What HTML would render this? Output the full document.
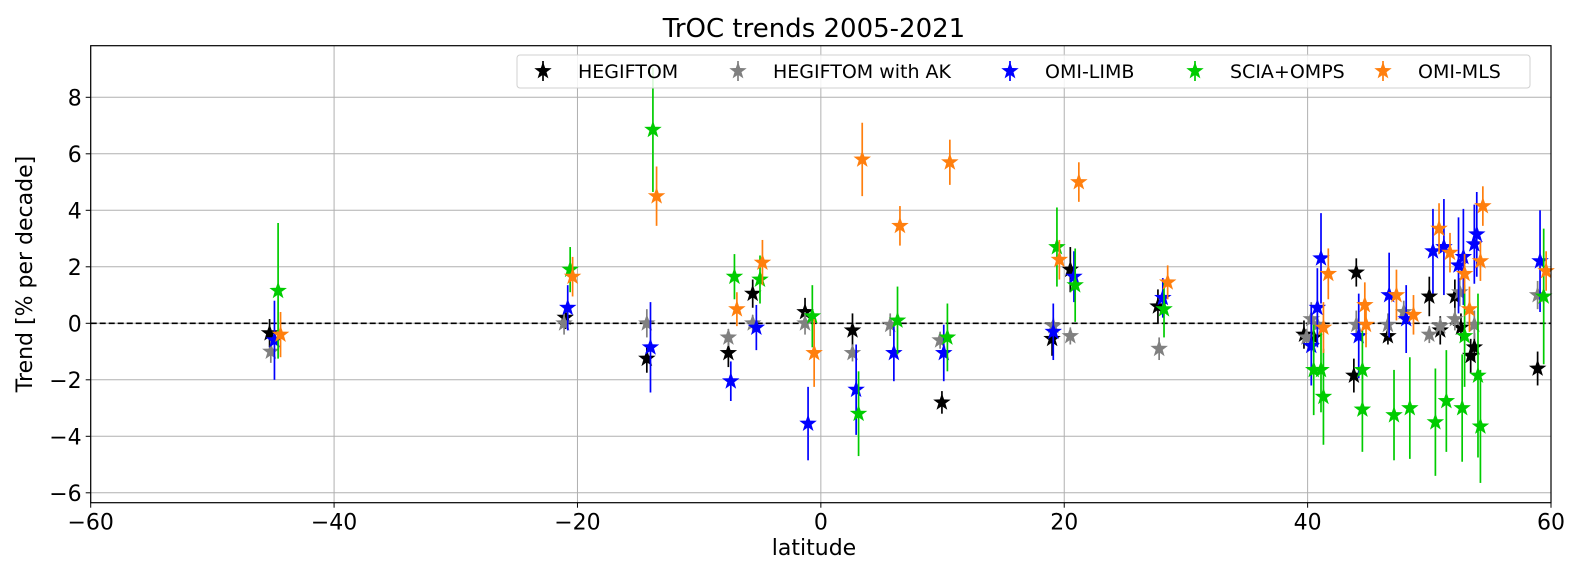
<!DOCTYPE html>
<html><head><meta charset="utf-8"><style>
html,body{margin:0;padding:0;background:#fff;}
svg{display:block;font-family:"DejaVu Sans","Liberation Sans",sans-serif;}
</style></head><body>
<svg id="chart" width="1579" height="574" viewBox="0 0 1579 574">
<text x="814" y="37" text-anchor="middle" font-size="26">TrOC trends 2005-2021</text>
<g id="grid"></g>
<g id="ticks"></g>
<g id="marks"></g>
<rect x="90.7" y="45.7" width="1460.3" height="457" fill="none" stroke="#000" stroke-width="1.2"/>
<text x="814" y="555" text-anchor="middle" font-size="22">latitude</text>
<text transform="translate(32,274) rotate(-90)" text-anchor="middle" font-size="22">Trend [% per decade]</text>
<g id="legend"></g>
</svg>
<script>
const xTicks=[-60,-40,-20,0,20,40,60];
const yTicks=[-6,-4,-2,0,2,4,6,8];
const seriesNames=["HEGIFTOM","HEGIFTOM with AK","OMI-LIMB","SCIA+OMPS","OMI-MLS"];
const hegiftom=[[-45.3,-0.35,0.5],[-21.0,0.2,0.4],[-14.3,-1.25,0.5],[-7.6,-1.05,0.5],[-5.6,1.05,0.5],[-1.3,0.4,0.5],[2.6,-0.25,0.6],[9.95,-2.8,0.4],[19.0,-0.55,0.6],[20.5,1.9,0.8],[27.7,0.6,0.6],[39.7,-0.4,0.5],[40.5,-0.5,0.5],[44.0,1.8,0.5],[43.8,-1.85,0.6],[46.6,-0.45,0.3],[50.0,0.95,0.7],[50.9,-0.25,0.5],[52.1,0.95,0.6],[52.6,-0.15,0.5],[53.4,-1.15,0.6],[53.7,-0.85,0.5],[58.9,-1.6,0.6]];
const hegiftomAK=[[-45.2,-1.0,0.4],[-21.1,0.0,0.4],[-14.3,0.0,0.5],[-7.6,-0.5,0.3],[-5.6,0.0,0.3],[-1.3,0.0,0.4],[2.6,-1.05,0.3],[5.7,-0.05,0.4],[9.8,-0.6,0.3],[19.1,-0.1,0.3],[20.5,-0.45,0.3],[27.8,-0.9,0.4],[39.9,-0.5,0.3],[40.3,0.15,0.6],[40.8,-0.05,0.4],[44.0,-0.05,0.5],[46.6,-0.05,0.4],[47.9,0.4,0.4],[50.0,-0.4,0.3],[50.9,-0.1,0.3],[52.1,0.15,0.4],[52.5,1.1,0.5],[53.7,-0.05,0.5],[58.9,1.0,0.5]];
const omiLimb=[[-44.9,-0.6,1.4],[-20.8,0.55,0.8],[-14.0,-0.85,1.6],[-7.4,-2.05,0.7],[-5.3,-0.15,0.8],[-1.05,-3.55,1.3],[2.9,-2.35,1.6],[6.0,-1.05,1.0],[10.1,-1.05,1.0],[19.1,-0.3,1.0],[20.8,1.65,0.9],[28.1,0.9,0.7],[40.3,-0.8,1.4],[40.8,0.55,1.4],[41.1,2.3,1.6],[44.2,-0.45,1.5],[46.7,1.0,1.5],[48.1,0.15,1.2],[50.3,2.55,1.5],[51.2,2.7,1.7],[52.4,2.05,1.7],[52.8,2.35,1.7],[53.7,2.8,1.4],[53.9,3.15,1.5],[59.1,2.2,1.8]];
const sciaOmps=[[-44.6,1.15,2.4],[-20.6,1.9,0.8],[-13.8,6.85,2.2],[-7.1,1.65,0.8],[-5.0,1.55,0.85],[-0.7,0.25,1.1],[3.1,-3.2,1.5],[6.3,0.1,1.2],[10.4,-0.5,1.2],[19.4,2.7,1.4],[20.9,1.35,1.3],[28.2,0.5,1.0],[40.5,-1.65,1.6],[41.1,-1.65,1.5],[41.3,-2.6,1.7],[44.5,-1.65,1.4],[44.5,-3.05,1.5],[47.1,-3.25,1.6],[48.4,-3.0,1.8],[50.5,-3.5,1.9],[51.4,-2.75,1.8],[52.7,-3.0,1.9],[52.9,-0.45,1.8],[54.0,-1.85,2.9],[54.2,-3.65,2.0],[59.4,0.95,2.4]];
const omiMls=[[-44.4,-0.4,0.8],[-20.4,1.65,0.7],[-13.5,4.5,1.05],[-6.9,0.5,0.6],[-4.8,2.15,0.8],[-0.55,-1.05,1.2],[3.4,5.8,1.3],[6.5,3.45,0.7],[10.6,5.7,0.8],[19.6,2.25,0.7],[21.2,5.0,0.7],[28.5,1.45,0.6],[41.3,-0.15,0.9],[41.7,1.75,0.9],[44.7,0.65,0.8],[44.8,-0.05,0.8],[47.3,1.0,0.9],[48.7,0.3,0.7],[50.8,3.35,0.9],[51.7,2.5,0.7],[52.9,1.75,0.7],[53.3,0.5,0.8],[54.2,2.2,0.7],[54.4,4.15,0.7],[59.6,1.85,0.7]];

const NS="http://www.w3.org/2000/svg";
const X0=90.7,X1=1551,Y0=45.7,Y1=502.7;
function xs(v){return X0+(v+60)/120*(X1-X0);}
function ys(v){return 323.3-v*28.25;}
function mk(tag,attrs,parent){const e=document.createElementNS(NS,tag);for(const k in attrs)e.setAttribute(k,attrs[k]);parent.appendChild(e);return e;}
function starPts(cx,cy,R){const r=R*0.4;let p=[];for(let i=0;i<10;i++){const a=-Math.PI/2+i*Math.PI/5;const rr=i%2?r:R;p.push((cx+rr*Math.cos(a)).toFixed(1)+','+(cy+rr*Math.sin(a)).toFixed(1));}return p.join(' ');}
const grid=document.getElementById('grid'),ticks=document.getElementById('ticks'),marks=document.getElementById('marks'),legend=document.getElementById('legend');
xTicks.forEach(t=>{
  const l=mk('line',{x1:xs(t),x2:xs(t),y1:Y0,y2:Y1,stroke:'#b0b0b0','stroke-width':1},grid);
  
  
  const tk=mk('line',{x1:xs(t),x2:xs(t),y1:Y1,y2:Y1+5,stroke:'#000'},ticks);
  
  
  const tx=mk('text',{x:xs(t),y:Y1+27,'text-anchor':'middle','font-size':22},ticks);
  tx.textContent=(t<0?'\u2212'+(-t):t);
  
  
});
yTicks.forEach(t=>{
  const l=mk('line',{x1:X0,x2:X1,y1:ys(t),y2:ys(t),stroke:'#b0b0b0','stroke-width':1},grid);
  
  
  const tk=mk('line',{x1:X0-5,x2:X0,y1:ys(t),y2:ys(t),stroke:'#000'},ticks);
  
  
  const tx=mk('text',{x:X0-9,y:ys(t)+8,'text-anchor':'end','font-size':22},ticks);
  tx.textContent=(t<0?'\u2212'+(-t):t);
  
  
});
const zl=mk('line',{x1:X0,x2:X1,y1:ys(0),y2:ys(0),stroke:'#000','stroke-width':1.6,'stroke-dasharray':'6,3'},grid);


const colors=['#000000','#808080','#0000ff','#00cc00','#ff7f0e'];
const allSeries=[hegiftom,hegiftomAK,omiLimb,sciaOmps,omiMls];
allSeries.forEach((s,si)=>{
  const g=mk('g',{},marks);
  
  
  s.forEach(d=>{
    const x=xs(d[0]);
    const e=mk('line',{x1:x,x2:x,y1:Math.max(Y0,ys(d[1]+d[2])),y2:Math.min(Y1,ys(d[1]-d[2])),stroke:colors[si],'stroke-width':1.7},g);
    
    
    const p=mk('polygon',{points:starPts(x,ys(d[1]),9.2),fill:colors[si]},g);
    
    
  });
});
const lb=mk('rect',{x:517,y:55,width:1013,height:33,rx:3,fill:'#fff','fill-opacity':0.85,stroke:'#d0d0d0'},legend);


const lx=[543,738,1010,1195,1383];
seriesNames.forEach((n,i)=>{
  const g=mk('g',{},legend);
  
  
  mk('line',{x1:lx[i],x2:lx[i],y1:61,y2:81,stroke:colors[i],'stroke-width':1.7},g);
  mk('polygon',{points:starPts(lx[i],71,9.2),fill:colors[i]},g);
  const t=mk('text',{x:lx[i]+35,y:78,'font-size':19},g);
  t.textContent=n;
});
</script>
</body></html>
